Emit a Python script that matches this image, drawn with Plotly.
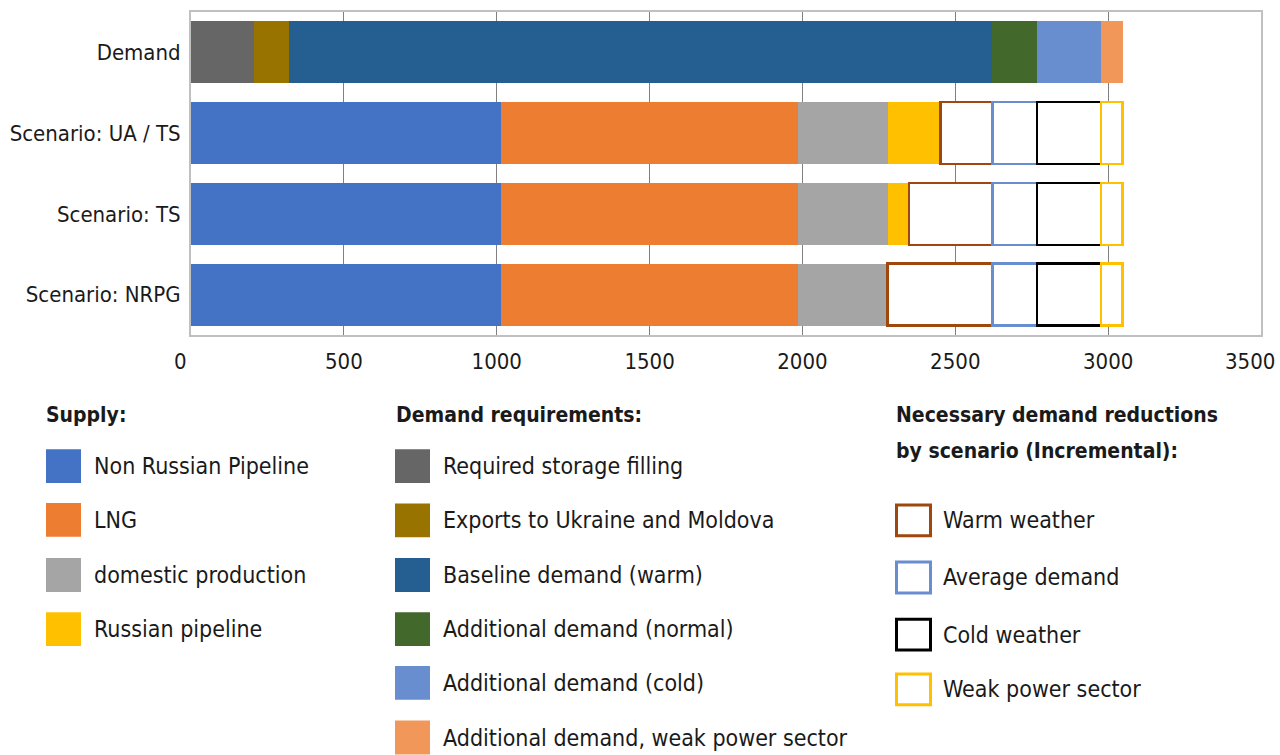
import plotly.graph_objects as go

# Rows of the chart (top to bottom)
categories = ["Demand", "Scenario: UA / TS", "Scenario: TS", "Scenario: NRPG"]

# Supply by scenario
non_russian_pipeline = [None, 1015, 1015, 1015]
lng = [None, 970, 970, 970]
domestic_production = [None, 294, 294, 294]
russian_pipeline = [None, 172, 70, 0]

# Demand requirements
storage_filling = [205, None, None, None]
exports_ua_md = [116, None, None, None]
baseline_warm = [2300, None, None, None]
additional_normal = [146, None, None, None]
additional_cold = [210, None, None, None]
additional_weak_power = [70, None, None, None]

# Necessary demand reductions (incremental)
red_warm = [None, 170, 272, 342]
red_average = [None, 146, 146, 146]
red_cold = [None, 210, 210, 210]
red_weak_power = [None, 70, 70, 70]

x_ticks = [0, 500, 1000, 1500, 2000, 2500, 3000, 3500]

W, H = 1280, 755
ML, MR, MT, MB = 191, 19, 10, 420
PW, PH = W - ML - MR, H - MT - MB

FONT = "DejaVu Sans Condensed"
TXT = "#1a1a1a"

filled = [
    ("Non Russian Pipeline", non_russian_pipeline, "#4472C4"),
    ("LNG", lng, "#ED7D31"),
    ("domestic production", domestic_production, "#A5A5A5"),
    ("Russian pipeline", russian_pipeline, "#FFC000"),
    ("Required storage filling", storage_filling, "#666666"),
    ("Exports to Ukraine and Moldova", exports_ua_md, "#997300"),
    ("Baseline demand (warm)", baseline_warm, "#255E91"),
    ("Additional demand (normal)", additional_normal, "#43682B"),
    ("Additional demand (cold)", additional_cold, "#698ED0"),
    ("Additional demand, weak power sector", additional_weak_power, "#F1975A"),
]
outlined = [
    ("Warm weather", red_warm, "#9E480E"),
    ("Average demand", red_average, "#698ED0"),
    ("Cold weather", red_cold, "#000000"),
    ("Weak power sector", red_weak_power, "#FFC000"),
]

fig = go.Figure()
for name, vals, color in filled:
    fig.add_trace(go.Bar(y=categories, x=vals, name=name, orientation="h",
                         marker=dict(color=color, line=dict(width=0)),
                         showlegend=False))
for name, vals, color in outlined:
    fig.add_trace(go.Bar(y=categories, x=vals, name=name, orientation="h",
                         marker=dict(color="white", line=dict(color=color, width=2.5)),
                         showlegend=False))


def px(x):
    return (x - ML) / PW


def py(y):
    return (MT + PH - y) / PH


shapes = []
annotations = []


def heading(x, y, text):
    annotations.append(dict(x=px(x), y=py(y), xref="paper", yref="paper", text=text,
                            showarrow=False, xanchor="left", yanchor="middle", align="left",
                            font=dict(family=FONT, size=21, color=TXT, weight="bold")))


def item(x, y, text, color, outline=False, sw=35, tx=None):
    half = 17
    if outline:
        shapes.append(dict(type="rect", xref="paper", yref="paper",
                           x0=px(x + 1.5), x1=px(x + sw - 1.5), y0=py(y + half - 1.5), y1=py(y - half + 1.5),
                           fillcolor="white", line=dict(color=color, width=3)))
    else:
        shapes.append(dict(type="rect", xref="paper", yref="paper",
                           x0=px(x), x1=px(x + sw), y0=py(y + half), y1=py(y - half),
                           fillcolor=color, line=dict(width=0)))
    annotations.append(dict(x=px(tx), y=py(y), xref="paper", yref="paper",
                            text=text, showarrow=False, xanchor="left", yanchor="middle",
                            font=dict(family=FONT, size=23, color=TXT)))


# Supply column
heading(44, 415, "Supply:")
supply_rows = [467, 521, 576.5, 631]
for (name, _, color), yy in zip(filled[:4], supply_rows):
    item(46, yy, name, color, tx=92)

# Demand column
heading(394, 415, "Demand requirements:")
demand_rows = [467, 521.5, 576.5, 631, 685, 740]
for (name, _, color), yy in zip(filled[4:], demand_rows):
    item(395, yy, name, color, tx=441)

# Reductions column
heading(894, 415, "Necessary demand reductions")
heading(894, 452, "by scenario (Incremental):")
red_rows = [521.5, 579, 636.5, 691.5]
for (name, _, color), yy in zip(outlined, red_rows):
    item(895, yy, name, color, outline=True, sw=37, tx=941)

# End tick labels sit just inside the figure edges
for v, shift in ((x_ticks[0], -11), (x_ticks[-1], -11)):
    annotations.append(dict(x=v, y=0, xref="x", yref="paper", text=str(v), showarrow=False,
                            xanchor="center", yanchor="middle", xshift=shift, yshift=-26,
                            font=dict(family=FONT, size=22, color=TXT)))

tick_text = [str(v) for v in x_ticks]
tick_text[0] = ""
tick_text[-1] = ""

fig.update_layout(
    width=W, height=H,
    margin=dict(l=ML, r=MR, t=MT, b=MB, pad=0),
    barmode="stack",
    bargap=0.235,
    plot_bgcolor="white",
    paper_bgcolor="white",
    font=dict(family=FONT, size=22, color=TXT),
    shapes=shapes,
    annotations=annotations,
)
fig.update_xaxes(range=[0, 3500], tickvals=x_ticks, ticktext=tick_text,
                 showgrid=True, gridcolor="#808080", gridwidth=1,
                 showline=True, linecolor="#c0c0c0", linewidth=2, mirror=True,
                 zeroline=False, ticks="", tickfont=dict(family=FONT, size=22, color=TXT),
                 ticklabelstandoff=6)
fig.update_yaxes(categoryorder="array", categoryarray=categories[::-1],
                 showgrid=False, showline=True, linecolor="#c0c0c0", linewidth=2, mirror=True,
                 ticks="", tickfont=dict(family=FONT, size=22, color=TXT),
                 ticklabelstandoff=4)

fig.write_html("out.html")
